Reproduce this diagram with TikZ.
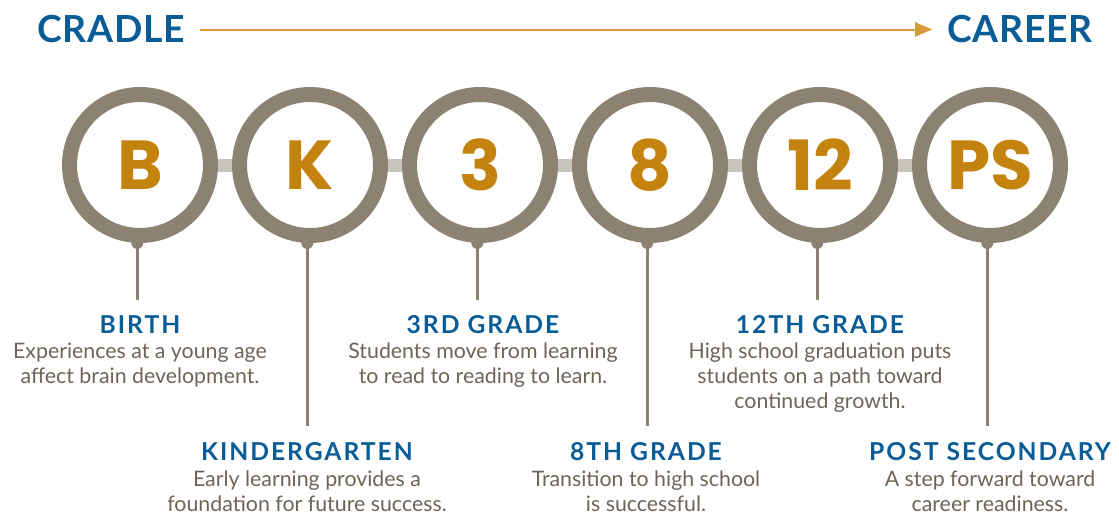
\documentclass[tikz,border=0pt]{standalone}
\usepackage{fontspec}
\setmainfont{Lato}
\newfontfamily\bigfont{Poppins}
\usetikzlibrary{positioning,arrows.meta}

\definecolor{headblue}{RGB}{10,92,150}
\definecolor{stageorange}{RGB}{196,130,14}
\definecolor{arrowgold}{RGB}{212,154,60}
\definecolor{ringgray}{RGB}{140,130,114}
\definecolor{bargray}{RGB}{200,197,190}
\definecolor{notegray}{RGB}{109,100,89}

\tikzset{
  ring/.style={circle, draw=ringgray, line width=11.25pt, fill=white, minimum size=105.75pt, inner sep=0pt,
    text=stageorange, font=\bigfont\bfseries\fontsize{52}{52}\selectfont},
  link/.style={draw=bargray, line width=9.75pt},
  pin/.style={draw=ringgray, line width=2.25pt},
  title/.style={text=headblue, inner sep=0pt, font=\bfseries\fontsize{28}{30}\selectfont\addfontfeature{LetterSpace=2}},
  stage/.style={text=headblue, inner sep=0pt, anchor=base, font=\bfseries\fontsize{18.5}{20}\selectfont\addfontfeature{LetterSpace=8}},
  note/.style={text=notegray, inner sep=0pt, anchor=base, align=center, font=\fontsize{16}{18.75}\selectfont},
}

\begin{document}
\begin{tikzpicture}[x=0.75pt,y=-0.75pt]
	\useasboundingbox (0,0) rectangle (1119,517);
	\node[title, anchor=base west] (cradle) at (37,43) {CRADLE};
	\node[title, anchor=base east] (career) at (1093,43) {CAREER};
	\draw[draw=arrowgold, line width=1.5pt, shorten <=11.25pt, shorten >=11.25pt,
		-{Triangle[length=12.75pt,width=10.5pt]}] (cradle.east) -- (career.west);
	\foreach \lab [count=\i] in {B,K,3,8,12,PS}
		\node[ring] (c\i) at (-30+170*\i,165) {\lab};
	\foreach \i [evaluate=\i as \j using int(\i+1)] in {1,...,5}
		\draw[link] (c\i.east) -- (c\j.west);
	\foreach \i/\len in {1/57,2/183,3/57,4/183,5/57,6/183} {
		\path (c\i.268) ++(0,\len) coordinate (p\i);
		\draw[pin] (c\i.268) -- (p\i);
		\fill[ringgray] (c\i.268) circle (4.5pt);
	}
	\node[stage] (birth) at (140,333) {BIRTH};
	\node[note] (birthtxt) at (140,383) {Experiences at a young age\\affect brain development.};
	\node[stage] (kinder) at (307,460) {KINDERGARTEN};
	\node[note] (kindertxt) at (307,511) {Early learning provides a\\foundation for future success.};
	\node[stage] (third) at (483,333) {3RD GRADE};
	\node[note] (thirdtxt) at (483,383) {Students move from learning\\to read to reading to learn.};
	\node[stage] (eighth) at (646,460) {8TH GRADE};
	\node[note] (eighthtxt) at (646,511) {Transition to high school\\is successful.};
	\node[stage] (twelfth) at (820,333) {12TH GRADE};
	\node[note] (twelfthtxt) at (820,408) {High school graduation puts\\students on a path toward\\continued growth.};
	\node[stage] (post) at (990,460) {POST SECONDARY};
	\node[note] (posttxt) at (990,511) {A step forward toward\\career readiness.};
\end{tikzpicture}
\end{document}
